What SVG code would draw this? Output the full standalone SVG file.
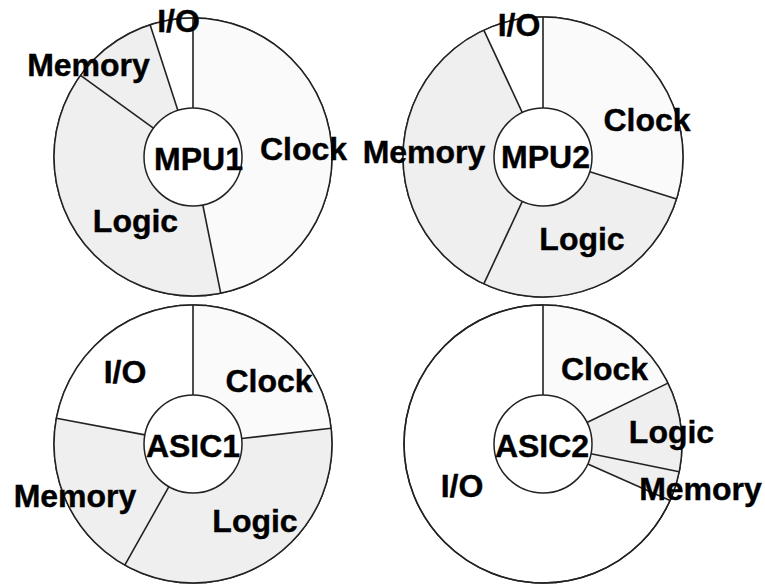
<svg xmlns="http://www.w3.org/2000/svg" width="765" height="586" viewBox="0 0 765 586">
<style>
.ring{fill:#ffffff;stroke:#222;stroke-width:1.5}
.clk{fill:#fafafa}
.lgc{fill:#efefef}
.mem{fill:#efefef}
.io{fill:#ffffff}
.div{stroke:#222;stroke-width:1.6;fill:none}
.hole{fill:#ffffff;stroke:#222;stroke-width:1.5}
text{font-family:"Liberation Sans",Arial,sans-serif;font-weight:bold;font-size:32px;fill:#000;stroke:#000;stroke-width:0.4;text-anchor:middle}
</style>
<rect width="765" height="586" fill="#ffffff"/>

<g id="mpu1">
<g transform="translate(193,157)">
<circle class="ring" r="139"/>
<path class="clk" d="M0,0 L0,-139 A139,139 0 0 1 27.7,136.2 Z"/>
<path class="lgc" d="M0,0 L27.7,136.2 A139,139 0 0 1 -112.5,-81.7 Z"/>
<path class="mem" d="M0,0 L-112.5,-81.7 A139,139 0 0 1 -42.9,-132.2 Z"/>
<path class="io" d="M0,0 L-42.9,-132.2 A139,139 0 0 1 0,-139 Z"/>
<circle r="139" fill="none" stroke="#222" stroke-width="1.5"/>
<path class="div" d="M0,-49 L0,-139 M9.8,48 L27.7,136.2 M-39.6,-28.8 L-112.5,-81.7 M-15.1,-46.6 L-42.9,-132.2"/>
<circle class="hole" r="49"/>
</g>
<text x="178.5" y="32">I/O</text>
<text x="88.5" y="76">Memory</text>
<text x="198.5" y="170">MPU1</text>
<text x="303.5" y="160">Clock</text>
<text x="135.5" y="232">Logic</text>
</g>

<g id="mpu2">
<g transform="translate(543,157)">
<circle class="ring" r="140"/>
<path class="clk" d="M0,0 L0,-140 A140,140 0 0 1 133.6,41.9 Z"/>
<path class="lgc" d="M0,0 L133.6,41.9 A140,140 0 0 1 -59.2,126.9 Z"/>
<path class="mem" d="M0,0 L-59.2,126.9 A140,140 0 0 1 -59.2,-126.9 Z"/>
<path class="io" d="M0,0 L-59.2,-126.9 A140,140 0 0 1 0,-140 Z"/>
<circle r="140" fill="none" stroke="#222" stroke-width="1.5"/>
<path class="div" d="M0,-49 L0,-140 M46.8,14.7 L133.6,41.9 M-20.7,44.4 L-59.2,126.9 M-20.7,-44.4 L-59.2,-126.9"/>
<circle class="hole" r="49"/>
</g>
<text x="519" y="36">I/O</text>
<text x="424" y="163">Memory</text>
<text x="545.5" y="168">MPU2</text>
<text x="647" y="131">Clock</text>
<text x="582" y="250">Logic</text>
</g>

<g id="asic1">
<g transform="translate(193,444)">
<circle class="ring" r="139"/>
<path class="clk" d="M0,0 L0,-139 A139,139 0 0 1 138.1,-15.7 Z"/>
<path class="lgc" d="M0,0 L138.1,-15.7 A139,139 0 0 1 -68.2,121.1 Z"/>
<path class="mem" d="M0,0 L-68.2,121.1 A139,139 0 0 1 -136.6,-25.8 Z"/>
<path class="io" d="M0,0 L-136.6,-25.8 A139,139 0 0 1 0,-139 Z"/>
<circle r="139" fill="none" stroke="#222" stroke-width="1.5"/>
<path class="div" d="M0,-49 L0,-139 M48.7,-5.5 L138.1,-15.7 M-24.1,42.7 L-68.2,121.1 M-48.1,-9.1 L-136.6,-25.8"/>
<circle class="hole" r="49"/>
</g>
<text x="125" y="383">I/O</text>
<text x="269" y="392">Clock</text>
<text x="193" y="457">ASIC1</text>
<text x="75" y="507">Memory</text>
<text x="255" y="532">Logic</text>
</g>

<g id="asic2">
<g transform="translate(543,444)">
<circle class="ring" r="139"/>
<path class="clk" d="M0,0 L0,-139 A139,139 0 0 1 124.9,-60.9 Z"/>
<path class="lgc" d="M0,0 L124.9,-60.9 A139,139 0 0 1 136.2,27.7 Z"/>
<path class="mem" d="M0,0 L136.2,27.7 A139,139 0 0 1 127,56.5 Z"/>
<circle r="139" fill="none" stroke="#222" stroke-width="1.5"/>
<path class="div" d="M0,-49 L0,-139 M44,-21.5 L124.9,-60.9 M48,9.8 L136.2,27.7 M44.8,19.9 L127,56.5"/>
<circle class="hole" r="49"/>
</g>
<text x="604.5" y="380">Clock</text>
<text x="671.5" y="443">Logic</text>
<text x="542" y="457">ASIC2</text>
<text x="462" y="497">I/O</text>
<text x="700.5" y="500">Memory</text>
</g>

<g id="connectors"/>
</svg>
